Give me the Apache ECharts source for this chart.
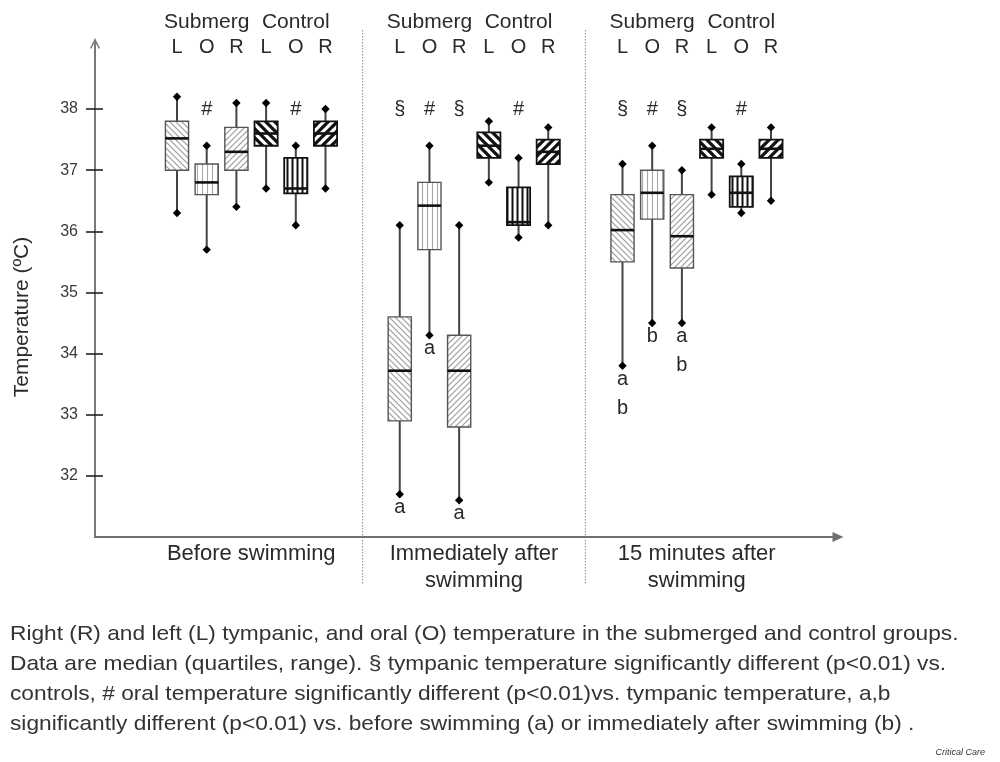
<!DOCTYPE html>
<html><head><meta charset="utf-8">
<script src="https://cdn.jsdelivr.net/npm/echarts@6/dist/echarts.min.js"></script>
<style>html,body{margin:0;padding:0;background:#fff}#c{width:1000px;height:762px}</style>
</head><body><div id="c"></div>
<script>
// ---------------- DATA ----------------
const periods = ['Before swimming', 'Immediately after\nswimming', '15 minutes after\nswimming'];
const groupNames = ['Submerg', 'Control'];
const sites = ['L', 'O', 'R'];
// each row: [min, q1, median, q3, max]; rows: Submerg L, O, R, Control L, O, R
const beforeSwimming = [
  [36.3, 37.0, 37.52, 37.8, 38.2],
  [35.7, 36.6, 36.8, 37.1, 37.4],
  [36.4, 37.0, 37.3, 37.7, 38.1],
  [36.7, 37.4, 37.6, 37.8, 38.1],
  [36.1, 36.62, 36.7, 37.2, 37.4],
  [36.7, 37.4, 37.6, 37.8, 38.0]
];
const immediatelyAfter = [
  [31.7, 32.9, 33.72, 34.6, 36.1],
  [34.3, 35.7, 36.42, 36.8, 37.4],
  [31.6, 32.8, 33.72, 34.3, 36.1],
  [36.8, 37.2, 37.4, 37.62, 37.8],
  [35.9, 36.1, 36.15, 36.72, 37.2],
  [36.1, 37.1, 37.3, 37.5, 37.7]
];
const fifteenMinAfter = [
  [33.8, 35.5, 36.02, 36.6, 37.1],
  [34.5, 36.2, 36.63, 37.0, 37.4],
  [34.5, 35.4, 35.92, 36.6, 37.0],
  [36.6, 37.2, 37.35, 37.5, 37.7],
  [36.3, 36.4, 36.63, 36.9, 37.1],
  [36.5, 37.2, 37.35, 37.5, 37.7]
];
const marksAbove = [
  ['', '#', '', '', '#', ''],
  ['§', '#', '§', '', '#', ''],
  ['§', '#', '§', '', '#', '']
];
const marksBelow = [
  ['', '', '', '', '', ''],
  ['a', 'a', 'a', '', '', ''],
  ['a\nb', 'b', 'a\nb', '', '', '']
];
const yTicks = [32, 33, 34, 35, 36, 37, 38];
const captionLines = [
  'Right (R) and left (L) tympanic, and oral (O) temperature in the submerged and control groups.',
  'Data are median (quartiles, range). § tympanic temperature significantly different (p<0.01) vs.',
  'controls, # oral temperature significantly different (p<0.01)vs. tympanic temperature, a,b',
  'significantly different (p<0.01) vs. before swimming (a) or immediately after swimming (b) .'
];
const source = 'Critical Care';
const yAxisTitle = 'Temperature (ºC)';

// ---------------- LAYOUT / STYLE ----------------
const periodData = [beforeSwimming, immediatelyAfter, fifteenMinAfter];
const GROUP_STEP = 7.5;   // slots between period groups
const MARK_LEVEL = 38.0;  // level of the # / § marks
const FONT = '"Liberation Sans", Arial, sans-serif';
const TXT = '#2a2a2a';

function makePattern(kind, size, lw, color) {
  const c = document.createElement('canvas');
  c.width = size; c.height = size;
  const g = c.getContext('2d');
  g.fillStyle = '#fff'; g.fillRect(0, 0, size, size);
  g.strokeStyle = color; g.lineWidth = lw; g.lineCap = 'square';
  g.beginPath();
  if (kind === 'v') {
    g.moveTo(size / 2, -1); g.lineTo(size / 2, size + 1);
  } else {
    for (let k = -1; k <= 1; k++) {
      const x0 = k * size;
      if (kind === 'b') { g.moveTo(x0, 0); g.lineTo(x0 + size, size); }
      else { g.moveTo(x0, size); g.lineTo(x0 + size, 0); }
    }
  }
  g.stroke();
  return { image: c, repeat: 'repeat' };
}
const patterns = [
  makePattern('b', 6, 1.1, '#9a9a9a'),
  makePattern('v', 5, 1.1, '#a8a8a8'),
  makePattern('f', 6, 1.1, '#9a9a9a'),
  makePattern('b', 9, 3.2, '#111'),
  makePattern('v', 5, 2, '#111'),
  makePattern('f', 9, 3.2, '#111')
];

const boxData = [];
periodData.forEach((rows, i) => {
  rows.forEach((r, j) => {
    boxData.push([i * GROUP_STEP + j, r[0], r[1], r[2], r[3], r[4], i, j]);
  });
});
const periodLabelData = periods.map((p, i) => [i * GROUP_STEP + 2.5, i]);
const separatorData = [1, 2].map(i => [i * GROUP_STEP - 1.25]);

function diamond(x, y, r) {
  return { type: 'polygon', shape: { points: [[x, y - r], [x + r, y], [x, y + r], [x - r, y]] },
           style: { fill: '#000' }, z2: 5 };
}

function renderBox(params, api) {
  const pos = api.value(0);
  const i = api.value(6), j = api.value(7);
  const v = [1, 2, 3, 4, 5].map(k => api.value(k));
  const x = api.coord([pos, v[0]])[0];
  const y = v.map(val => api.coord([pos, val])[1]);
  const w = api.size([1, 0])[0] * 0.78;
  const ctrl = j >= 3;
  const boxStroke = ctrl ? '#111' : '#555';
  const ch = [
    { type: 'line', shape: { x1: x, y1: y[4], x2: x, y2: y[3] }, style: { stroke: '#444', lineWidth: 2 } },
    { type: 'line', shape: { x1: x, y1: y[1], x2: x, y2: y[0] }, style: { stroke: '#444', lineWidth: 2 } },
    { type: 'rect', shape: { x: x - w / 2, y: y[3], width: w, height: y[1] - y[3] },
      style: { fill: patterns[j], stroke: boxStroke, lineWidth: ctrl ? 1.8 : 1.4 }, z2: 2 },
    { type: 'line', shape: { x1: x - w / 2, y1: y[2], x2: x + w / 2, y2: y[2] },
      style: { stroke: '#111', lineWidth: 2.6 }, z2: 3 },
    diamond(x, y[4], 4.2),
    diamond(x, y[0], 4.2)
  ];
  const above = marksAbove[i][j];
  if (above) {
    ch.push({ type: 'text', x: x, y: api.coord([pos, MARK_LEVEL])[1],
      style: { text: above, font: '20px ' + FONT, fill: TXT, align: 'center', verticalAlign: 'middle' } });
  }
  const below = marksBelow[i][j];
  if (below) {
    ch.push({ type: 'text', x: x, y: y[0] - 1,
      style: { text: below, font: '20px ' + FONT, lineHeight: 29, fill: TXT, align: 'center', verticalAlign: 'top' } });
  }
  // column headers
  ch.push({ type: 'text', x: x, y: 47,
    style: { text: sites[j % 3], font: '20px ' + FONT, fill: TXT, align: 'center', verticalAlign: 'middle' } });
  if (j % 3 === 1) {
    ch.push({ type: 'text', x: x, y: 22,
      style: { text: groupNames[Math.floor(j / 3)], font: '21px ' + FONT, fill: TXT, align: 'center', verticalAlign: 'middle' } });
  }
  return { type: 'group', children: ch };
}

function renderPeriod(params, api) {
  const x = api.coord([api.value(0), 31])[0];
  const base = api.coord([api.value(0), 31])[1];
  return { type: 'text', x: x, y: base + 3,
    style: { text: periods[api.value(1)], font: '22px ' + FONT, lineHeight: 27, fill: TXT, align: 'center', verticalAlign: 'top' } };
}

function renderSeparator(params, api) {
  const p = api.coord([api.value(0), 31]);
  return { type: 'line', shape: { x1: p[0], y1: 30, x2: p[0], y2: 584 },
    style: { stroke: '#8a8a8a', lineWidth: 1, lineDash: [1.5, 1.5] } };
}

const chart = echarts.init(document.getElementById('c'), null, { renderer: 'canvas' });
chart.setOption({
  backgroundColor: '#fff',
  animation: false,
  grid: { left: 95, right: 162, top: 44, bottom: 225, containLabel: false },
  xAxis: {
    type: 'value', min: -2.761, max: 22.256,
    axisLine: { show: true, onZero: false, symbol: ['none', 'triangle'], symbolSize: [10, 11],
      lineStyle: { color: '#6f6f6f', width: 2 } },
    axisTick: { show: false }, axisLabel: { show: false }, splitLine: { show: false }
  },
  yAxis: [{
    type: 'value', min: 31, max: 39.064, position: 'left',
    axisLine: { show: true, onZero: false,
      symbol: ['none', 'path://M5,0 L10,10 L8.7,10.7 L5,3.4 L1.3,10.7 L0,10 Z M4.3,1 L5.7,1 L5.7,12 L4.3,12 Z'],
      symbolSize: [10, 12], lineStyle: { color: '#7a7a7a', width: 2 } },
    axisTick: { show: true, length: 9, customValues: yTicks, lineStyle: { color: '#222', width: 1.6 } },
    axisLabel: { show: true, customValues: yTicks, margin: 17, fontSize: 16, fontFamily: FONT, color: '#3a3a3a' },
    splitLine: { show: false }
  }, {
    type: 'value', min: 31, max: 39.064, position: 'left', offset: 0,
    axisLine: { show: false, onZero: false },
    axisTick: { show: true, inside: true, length: 8, customValues: yTicks, lineStyle: { color: '#222', width: 1.6 } },
    axisLabel: { show: false }, splitLine: { show: false }
  }],
  series: [
    { type: 'custom', name: 'separators', renderItem: renderSeparator, data: separatorData,
      encode: { x: 0 }, clip: false, silent: true, z: 1 },
    { type: 'custom', name: 'temperature', renderItem: renderBox, data: boxData,
      dimensions: ['pos', 'min', 'q1', 'median', 'q3', 'max', 'period', 'site'],
      encode: { x: 0, y: [1, 2, 3, 4, 5] }, clip: false, z: 3 },
    { type: 'custom', name: 'periods', renderItem: renderPeriod, data: periodLabelData,
      encode: { x: 0 }, clip: false, silent: true, z: 3 }
  ],
  graphic: [
    { type: 'text', x: 22, y: 317, rotation: Math.PI / 2,
      style: { text: yAxisTitle, font: '21px ' + FONT, fill: TXT, align: 'center', verticalAlign: 'middle' } },
    { type: 'text', x: 10, y: 619, scaleX: 1.082,
      style: { text: captionLines.join('\n'), font: '21px ' + FONT, lineHeight: 30, fill: '#333' } },
    { type: 'text', right: 15, top: 748,
      style: { text: source, font: 'italic 9px ' + FONT, fill: '#333' } }
  ]
});
</script>
</body></html>
